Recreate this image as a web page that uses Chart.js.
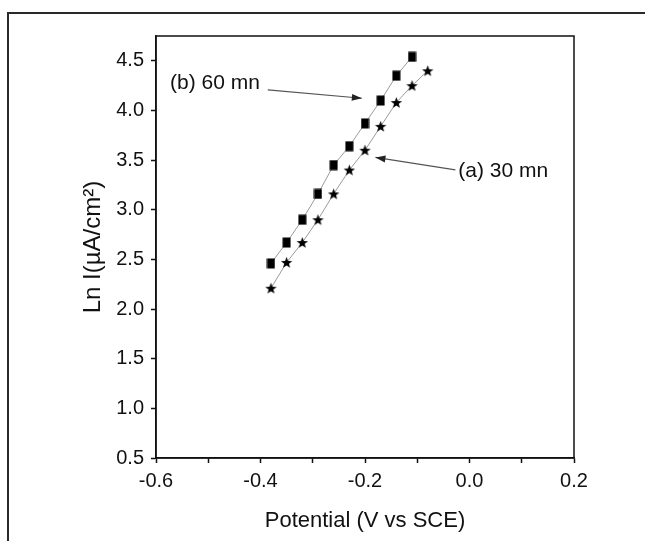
<!DOCTYPE html>
<html>
<head>
<meta charset="utf-8">
<style>
  html, body { margin: 0; padding: 0; background: #fff; }
  #wrap { position: relative; width: 645px; height: 541px; overflow: hidden; }
  #frame { position: absolute; left: 7px; top: 12px; width: 700px; height: 600px;
           border-left: 2px solid #2a2a2a; border-top: 2px solid #2a2a2a; }
  canvas { position: absolute; left: 0; top: 0; }
</style>
<script src="https://cdn.jsdelivr.net/npm/chart.js@4/dist/chart.umd.min.js"></script>
</head>
<body>
<div id="wrap">
  <div id="frame"></div>
  <canvas id="c" width="645" height="541"></canvas>
</div>
<script>
// ---- data ----
const potential60 = [-0.38, -0.35, -0.32, -0.29, -0.26, -0.23, -0.20, -0.17, -0.14, -0.11];
const lnI60       = [2.46, 2.67, 2.90, 3.16, 3.45, 3.64, 3.87, 4.10, 4.35, 4.54];
const potential30 = [-0.38, -0.35, -0.32, -0.29, -0.26, -0.23, -0.20, -0.17, -0.14, -0.11, -0.08];
const lnI30       = [2.21, 2.47, 2.67, 2.90, 3.16, 3.40, 3.60, 3.84, 4.08, 4.25, 4.40];
const seriesLabels = ['(b) 60 mn', '(a) 30 mn'];
const xTitle = 'Potential (V vs SCE)';
const yTitle = 'Ln I(\u00B5A/cm\u00B2)';
// annotation anchors in data units: [text, text x, text y, arrow start x, y, arrow tip x, y]
const noteB = ['(b) 60 mn', -0.573, 4.27, -0.386, 4.207, -0.206, 4.123];
const noteA = ['(a) 30 mn', -0.0215, 3.39, -0.027, 3.402, -0.180, 3.527];

const FONT = '"Liberation Sans", Arial, Helvetica, sans-serif';

// marker glyphs
function rectMarker() {
  const c = document.createElement('canvas');
  c.width = 9; c.height = 11;
  const g = c.getContext('2d');
  g.fillStyle = '#000';
  g.fillRect(0.5, 0.5, 8, 10);
  return c;
}
function starMarker() {
  const c = document.createElement('canvas');
  c.width = 13; c.height = 13;
  const g = c.getContext('2d');
  g.fillStyle = '#000';
  g.beginPath();
  const cx = 6.5, cy = 7, R = 6, r = 2.5;
  for (let i = 0; i < 10; i++) {
    const a = -Math.PI / 2 + i * Math.PI / 5;
    const rr = i % 2 === 0 ? R : r;
    const px = cx + rr * Math.cos(a), py = cy + rr * Math.sin(a);
    if (i === 0) g.moveTo(px, py); else g.lineTo(px, py);
  }
  g.closePath();
  g.fill();
  return c;
}

const framePlugin = {
  id: 'frame',
  afterDraw(chart) {
    const { ctx, chartArea: a, scales } = chart;
    ctx.save();
    ctx.strokeStyle = '#111';
    ctx.lineWidth = 1.5;
    ctx.strokeRect(a.left, a.top, a.right - a.left, a.bottom - a.top);
    // annotations
    const xs = scales.x, ys = scales.y;
    ctx.font = '21px ' + FONT;
    ctx.fillStyle = '#111';
    ctx.textBaseline = 'middle';
    ctx.textAlign = 'left';
    [noteB, noteA].forEach(n => {
      ctx.fillText(n[0], xs.getPixelForValue(n[1]), ys.getPixelForValue(n[2]));
      const x0 = xs.getPixelForValue(n[3]), y0 = ys.getPixelForValue(n[4]);
      const x1 = xs.getPixelForValue(n[5]), y1 = ys.getPixelForValue(n[6]);
      ctx.strokeStyle = '#555';
      ctx.lineWidth = 1.2;
      ctx.beginPath(); ctx.moveTo(x0, y0); ctx.lineTo(x1, y1); ctx.stroke();
      const ang = Math.atan2(y1 - y0, x1 - x0);
      const L = 10, W = 3.5;
      ctx.fillStyle = '#222';
      ctx.beginPath();
      ctx.moveTo(x1, y1);
      ctx.lineTo(x1 - L * Math.cos(ang) + W * Math.sin(ang), y1 - L * Math.sin(ang) - W * Math.cos(ang));
      ctx.lineTo(x1 - L * Math.cos(ang) - W * Math.sin(ang), y1 - L * Math.sin(ang) + W * Math.cos(ang));
      ctx.closePath(); ctx.fill();
      ctx.fillStyle = '#111';
    });
    ctx.restore();
  }
};

const toXY = (xs, ys) => xs.map((x, i) => ({ x, y: ys[i] }));

new Chart(document.getElementById('c'), {
  type: 'line',
  data: {
    datasets: [
      { label: seriesLabels[0], data: toXY(potential60, lnI60), borderColor: '#9a9a9a', borderWidth: 1,
        pointStyle: rectMarker(), pointRadius: 6, tension: 0 },
      { label: seriesLabels[1], data: toXY(potential30, lnI30), borderColor: '#9a9a9a', borderWidth: 1,
        pointStyle: starMarker(), pointRadius: 6, tension: 0 }
    ]
  },
  options: {
    responsive: false,
    animation: false,
    events: [],
    layout: { padding: { left: 0, right: 71, top: 36, bottom: 0 } },
    plugins: { legend: { display: false }, tooltip: { enabled: false } },
    scales: {
      x: {
        type: 'linear', min: -0.6, max: 0.2,
        afterFit(s) { s.height = 83; },
        border: { display: true, color: '#111', width: 1.5 },
        grid: { drawOnChartArea: false, drawTicks: true, tickLength: 5, tickColor: '#111', tickWidth: 1.5 },
        ticks: {
          stepSize: 0.1, padding: 6, color: '#111', font: { family: FONT, size: 20 },
          callback(v) { const k = Math.round(v * 10); return k % 2 === 0 ? (k / 10).toFixed(1) : ''; }
        },
        title: { display: true, text: xTitle, color: '#111', font: { family: FONT, size: 22 }, padding: { top: 4, bottom: 7 } }
      },
      y: {
        type: 'linear', min: 0.5, max: 4.75,
        afterFit(s) { s.width = 156; },
        border: { display: true, color: '#111', width: 1.5 },
        grid: { drawOnChartArea: false, drawTicks: true, tickLength: 5, tickWidth: 1.5,
                tickColor(ctx) { return (ctx.tick && Math.abs(ctx.tick.value - 4.75) < 1e-6) ? 'rgba(0,0,0,0)' : '#111'; } },
        ticks: {
          stepSize: 0.25, padding: 7, color: '#111', font: { family: FONT, size: 20 },
          callback(v) { const k = Math.round(v * 4); return k % 2 === 0 ? (k / 4).toFixed(1) : ''; }
        },
        title: { display: true, text: yTitle, color: '#111', font: { family: FONT, size: 24 }, padding: { top: 79, bottom: 0 } }
      }
    }
  },
  plugins: [framePlugin]
});
</script>
</body>
</html>
